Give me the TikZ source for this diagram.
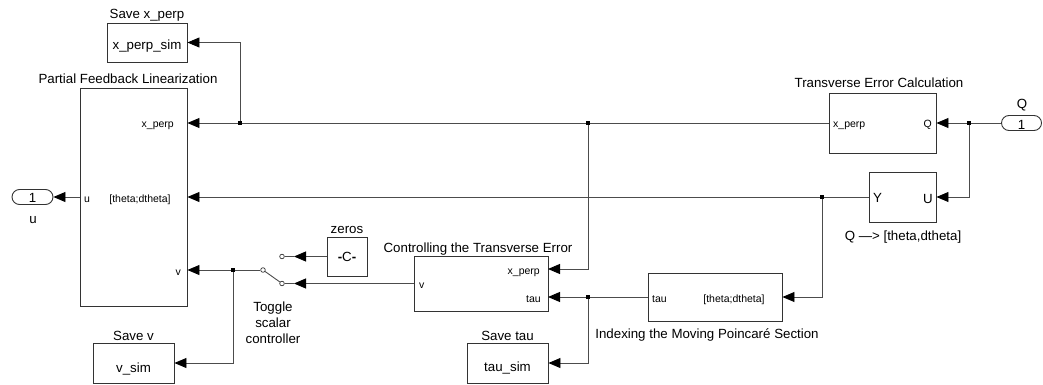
\documentclass[tikz,border=0pt]{standalone}
\usepackage{fontspec}
\setmainfont{Liberation Sans}
\usetikzlibrary{arrows.meta,shapes.misc}
\begin{document}
\begin{tikzpicture}[x=1pt,y=-1pt,
  blk/.style={draw=black!80,line width=0.9pt,rectangle,inner sep=0pt},
  lbl/.style={font=\fontsize{13.3}{16}\selectfont,inner sep=0pt},
  prt/.style={font=\fontsize{10.5}{12}\selectfont,inner sep=0pt},
  wire/.style={draw=black!70,line width=0.9pt},
  arr/.style={wire,-{Triangle[length=12pt,width=10pt,color=black]}},
  dot/.style={fill=black,inner sep=0pt,minimum size=3.2pt,rectangle},
  term/.style={draw=black!80,line width=0.9pt,rounded rectangle,inner sep=0pt,minimum width=41pt,minimum height=15pt},
  sw/.style={circle,draw=black!80,line width=0.7pt,fill=white,inner sep=0pt,minimum size=4.6pt}
]
\useasboundingbox (0,0) rectangle (1043,385);

% blocks
\node[blk,minimum width=80pt,minimum height=39pt] (sxp) at (147,42.5) {};
\node[blk,minimum width=107pt,minimum height=218pt] (pfl) at (133.5,197) {};
\node[term] (outu) at (32.5,197) {};
\node[blk,minimum width=81pt,minimum height=40pt] (sv) at (133.5,363) {};
\node[blk,minimum width=40pt,minimum height=39pt] (zeros) at (347,256.5) {};
\node[blk,minimum width=134pt,minimum height=55pt] (cte) at (481,283.5) {};
\node[blk,minimum width=81pt,minimum height=40pt] (st) at (507.5,363) {};
\node[blk,minimum width=134pt,minimum height=48pt] (idx) at (715,297) {};
\node[blk,minimum width=107pt,minimum height=60pt] (tec) at (882.5,123) {};
\node[blk,minimum width=67pt,minimum height=50pt] (qc) at (902.5,197) {};
\node[term,minimum width=40pt] (inq) at (1021.5,123) {};

% switch
\node[sw] (swa) at (263,270) {};
\node[sw] (swb) at (282,256.5) {};
\node[sw] (swc) at (282,283.5) {};
\coordinate (swbin) at (294,256.5);
\coordinate (swcin) at (294,283.5);
\draw[wire] (swa) -- (swc);
\draw[wire] (swb) -- (swbin);
\draw[wire] (swc) -- (swcin);

% block titles
\node[lbl,anchor=base] (tsxp) at (147,19) {Save x\_perp};
\node[lbl,anchor=base] (tpfl) at (128,84) {Partial Feedback Linearization};
\node[lbl,anchor=base] (toutu) at (33,223) {u};
\node[lbl,anchor=base] (tsv) at (133.5,340) {Save v};
\node[lbl,anchor=base] (tzeros) at (347,233) {zeros};
\node[lbl,anchor=base] (tcte) at (478,252) {Controlling the Transverse Error};
\node[lbl,anchor=base] (tst) at (507.5,340) {Save tau};
\node[lbl,anchor=base] (tidx) at (707,338) {Indexing the Moving Poincaré Section};
\node[lbl,anchor=base] (ttec) at (879,88) {Transverse Error Calculation};
\node[lbl,anchor=base] (tinq) at (1022,109) {Q};
\node[lbl,anchor=base] (tqc) at (903,240) {Q —> [theta,dtheta]};
\node[lbl,align=center,anchor=north] (ttog) at (273,301.5) {Toggle\\scalar\\controller};

% block contents
\node[lbl,anchor=base] (csxp) at (147,50) {x\_perp\_sim};
\node[lbl,anchor=base] (csv) at (133.5,372) {v\_sim};
\node[lbl,anchor=base] (cst) at (507.5,371) {tau\_sim};
\node[lbl] (czeros) at (347,256.5) {\textbf{-}C\textbf{-}};
\node[lbl] (coutu) at (32.5,197.5) {1};
\node[lbl] (cinq) at (1021.5,124.5) {1};
\node[lbl,anchor=base west] (cqy) at (873,202) {Y};
\node[lbl,anchor=base east] (cqu) at (933,203) {U};

% port labels
\node[prt,anchor=base east] (pxp) at (174,128) {x\_perp};
\node[prt,anchor=base] (pth) at (140,202) {[theta;dtheta]};
\node[prt,anchor=base west] (pu) at (84,202) {u};
\node[prt,anchor=base east] (pv) at (181,275) {v};
\node[prt,anchor=base east] (cxp) at (540,274) {x\_perp};
\node[prt,anchor=base east] (ctau) at (541,302) {tau};
\node[prt,anchor=base west] (cv) at (419,288) {v};
\node[prt,anchor=base west] (itau) at (652,302) {tau};
\node[prt,anchor=base] (ith) at (734,302) {[theta;dtheta]};
\node[prt,anchor=base west] (txp) at (833,128) {x\_perp};
\node[prt,anchor=base east] (tq) at (932,128) {Q};

% branch points and port coordinates
\coordinate (b1) at (969,123);
\coordinate (b2) at (240,123);
\coordinate (b3) at (588,123);
\coordinate (b4) at (822,197);
\coordinate (b5) at (588,297);
\coordinate (b6) at (233,270);
\coordinate (ctexp) at (548,269);
\coordinate (ctetau) at (548,297);

% connectors
\draw[arr] (inq.west) -- (tec.east);
\draw[arr] (b1) |- (qc.east);
\draw[arr] (tec.west) -- (tec.west -| pfl.east);
\draw[arr] (b2) |- (sxp.east);
\draw[arr] (b3) |- (ctexp);
\draw[arr] (qc.west) -- (qc.west -| pfl.east);
\draw[arr] (b4) |- (idx.east);
\draw[arr] (idx.west) -- (ctetau);
\draw[arr] (b5) |- (st.east);
\draw[arr] (cte.west) -- (swcin);
\draw[arr] (zeros.west) -- (swbin);
\draw[arr] (swa) -- (swa -| pfl.east);
\draw[arr] (b6) |- (sv.east);
\draw[arr] (pfl.west) -- (outu.east);

\node[dot] (d1) at (b1) {};
\node[dot] (d2) at (b2) {};
\node[dot] (d3) at (b3) {};
\node[dot] (d4) at (b4) {};
\node[dot] (d5) at (b5) {};
\node[dot] (d6) at (b6) {};
\end{tikzpicture}
\end{document}
